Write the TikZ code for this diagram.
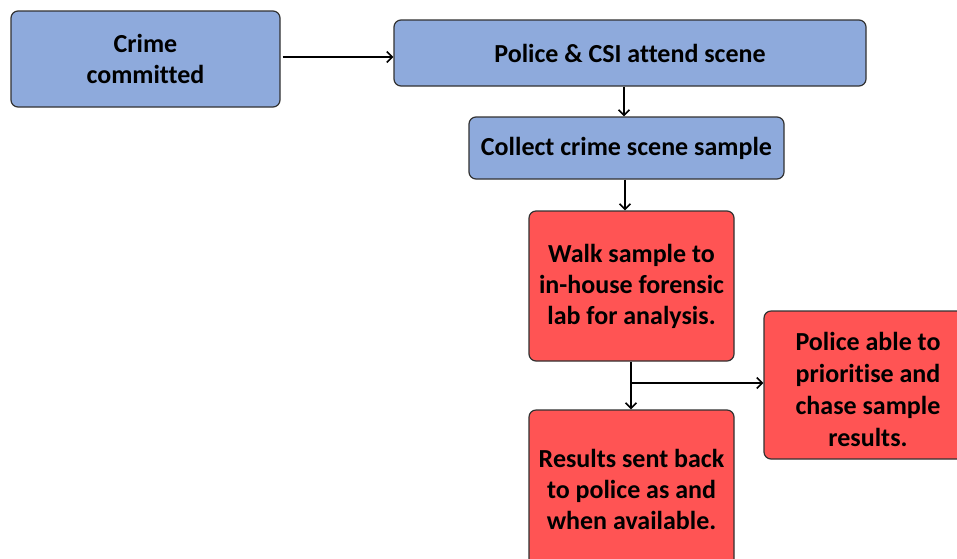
\documentclass[tikz,border=0pt]{standalone}
\usepackage{fontspec}
\setmainfont[Ligatures={NoCommon}]{Carlito}
\usetikzlibrary{arrows.meta}
\definecolor{stepblue}{RGB}{142,170,220}
\definecolor{stepred}{RGB}{255,84,84}
\definecolor{edgegray}{RGB}{50,50,50}
\tikzset{
  box/.style={draw=edgegray, line width=1.2pt, rounded corners=7pt, align=center,
    font=\fontsize{26}{31}\selectfont\bfseries, inner sep=0pt},
  bluebox/.style={box, fill=stepblue},
  redbox/.style={box, fill=stepred},
  flow/.style={line width=1.6pt, -{Straight Barb[length=5.5pt,width=11pt,line width=1.6pt]}}
}
\begin{document}
\begin{tikzpicture}[x=1pt,y=-1pt]
  \useasboundingbox (0,0) rectangle (957,558);
  \clip (0,0) rectangle (957,558);
  \fill[white] (0,0) rectangle (957,558);
  % process steps
  \node[bluebox, minimum width=269pt, minimum height=96pt] (crime) at (145.5,59) {Crime\\committed};
  \node[bluebox, minimum width=472pt, minimum height=66pt] (attend) at (630,53) {Police \& CSI attend scene};
  \node[bluebox, minimum width=315pt, minimum height=62pt] (collect) at (626.5,148) {Collect crime scene sample};
  \node[redbox, minimum width=205pt, minimum height=150pt] (walk) at (631.5,286) {Walk sample to\\in-house forensic\\lab for analysis.};
  \node[redbox, minimum width=210pt, minimum height=148pt,
        font=\fontsize{26}{32}\selectfont\bfseries] (chase) at (869,385) {};
  \node[align=center, font=\fontsize{26}{32}\selectfont\bfseries, inner sep=0pt]
        (chasetext) at (868,389) {Police able to\\prioritise and\\chase sample\\results.};
  \node[redbox, minimum width=205pt, minimum height=158pt] (results) at (631.5,489) {Results sent back\\to police as and\\when available.};
  % connectors
  \draw[flow] (crime.east |- 0,57) ++(2,0) coordinate (c1) -- (c1 -| attend.west);
  \draw[flow] (attend.south -| 624,0) -- (collect.north -| 624,0);
  \draw[flow] (collect.south -| 625,0) -- (walk.north -| 625,0);
  \draw[flow] (walk.south -| 631,0) -- (results.north -| 631,0);
  \coordinate (split) at (631,383);
  \draw[flow] (split) -- (split -| chase.west);
\end{tikzpicture}
\end{document}
